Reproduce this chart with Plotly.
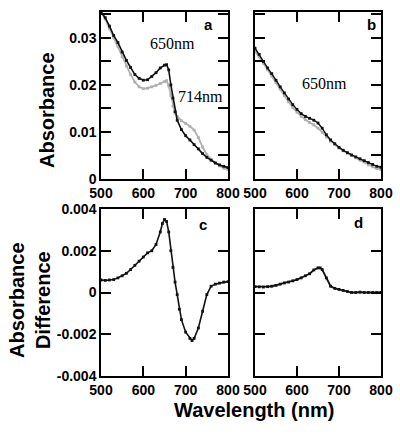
import plotly.graph_objects as go

# ---------------- data ----------------
wl_a = [500,510,520,530,540,550,560,570,580,590,600,610,620,630,640,650,655,660,665,670,675,680,690,700,710,720,730,740,750,760,770,780,790,800]
a_black = [0.0355,0.0343,0.0325,0.0305,0.0290,0.0270,0.0252,0.0237,0.0222,0.0214,0.0210,0.0211,0.0218,0.0226,0.0236,0.0242,0.0243,0.0232,0.0200,0.0172,0.0143,0.0125,0.0105,0.0092,0.0083,0.0073,0.0064,0.0054,0.0046,0.0040,0.0034,0.0030,0.0027,0.0024]
a_gray = [0.0355,0.0340,0.0320,0.0300,0.0282,0.0260,0.0240,0.0222,0.0206,0.0196,0.0192,0.0193,0.0196,0.0199,0.0203,0.0207,0.0209,0.0198,0.0178,0.0155,0.0140,0.0133,0.0124,0.0118,0.0112,0.0104,0.0088,0.0068,0.0052,0.0042,0.0034,0.0028,0.0023,0.0020]

wl_b = [500,510,520,530,540,550,560,570,580,590,600,610,620,630,640,650,660,670,680,690,700,710,720,730,740,750,760,770,780,790,800]
b_black = [0.0278,0.0265,0.0250,0.0236,0.0224,0.0210,0.0196,0.0183,0.0170,0.0158,0.0148,0.0139,0.0133,0.0129,0.0125,0.0119,0.0108,0.0094,0.0083,0.0075,0.0067,0.0061,0.0056,0.0051,0.0047,0.0043,0.0039,0.0035,0.0031,0.0027,0.0025]
b_gray = [0.0272,0.0260,0.0246,0.0232,0.0219,0.0205,0.0191,0.0177,0.0164,0.0152,0.0142,0.0133,0.0126,0.0120,0.0115,0.0108,0.0099,0.0089,0.0080,0.0073,0.0066,0.0060,0.0055,0.0050,0.0045,0.0040,0.0036,0.0030,0.0026,0.0022,0.0020]

wl_c = [500,510,520,530,540,550,560,570,580,590,600,610,620,630,640,645,650,655,660,665,670,675,680,685,690,700,710,715,720,730,740,750,760,770,780,790,800]
c_diff = [0.0006,0.00058,0.0006,0.00062,0.0007,0.0008,0.00092,0.0011,0.0013,0.0015,0.0017,0.0019,0.0020,0.0023,0.0029,0.0033,0.0035,0.0034,0.0029,0.0020,0.0012,0.0005,-0.0001,-0.0008,-0.0013,-0.0019,-0.0022,-0.0023,-0.0022,-0.0017,-0.0009,-0.0001,0.0003,0.0004,0.00045,0.0005,0.00052]

wl_d = [500,510,520,530,540,550,560,570,580,590,600,610,620,630,640,650,655,660,670,680,690,700,710,720,730,740,750,760,770,780,790,800]
d_diff = [0.00028,0.00027,0.00026,0.00028,0.0003,0.00034,0.0004,0.00046,0.0005,0.00056,0.00062,0.0007,0.0008,0.0009,0.00108,0.00118,0.00118,0.0011,0.0007,0.0003,0.0002,0.00015,0.0001,0.00005,0.0,0.0,0.00002,0.0,0.0,0.0,0.0,0.0]

x_ticks = [500, 600, 700, 800]
abs_ticks = [0, 0.005, 0.01, 0.015, 0.02, 0.025, 0.03, 0.035]
abs_labels = ["0", "", "0.01", "", "0.02", "", "0.03", ""]
diff_ticks = [-0.004, -0.002, 0, 0.002, 0.004]
diff_labels = ["-0.004", "-0.002", "0", "0.002", "0.004"]

# ---------------- figure ----------------
fig = go.Figure()
BLACK = "#111111"
GRAY = "#b0b0b0"

def add(x, y, color, xa, ya, width=1.3, msize=2.8):
    fig.add_trace(go.Scatter(x=x, y=y, mode="lines+markers", xaxis=xa, yaxis=ya,
                             line=dict(color=color, width=width),
                             marker=dict(color=color, size=msize, symbol="square"),
                             showlegend=False, hoverinfo="skip"))

add(wl_a, a_gray, GRAY, "x", "y", width=1.8)
add(wl_a, a_black, BLACK, "x", "y", width=1.6)
add(wl_b, b_gray, GRAY, "x2", "y2", width=1.8)
add(wl_b, b_black, BLACK, "x2", "y2", width=1.4)
add(wl_c, c_diff, BLACK, "x3", "y3", width=1.6)
add(wl_d, d_diff, BLACK, "x4", "y4", width=1.8)

def b(labels):
    return ["<b>%s</b>" % t if t else "" for t in labels]

tickfont = dict(family="Liberation Sans, Arial, sans-serif", size=14, color="black")
common = dict(showline=True, linecolor="black", linewidth=1.5, mirror="ticks",
              ticks="inside", ticklen=10, tickwidth=1.5, tickcolor="black",
              showgrid=False, zeroline=False, tickfont=tickfont, automargin=False)

dom_left = [101/400, 228/400]
dom_right = [255/400, 381/400]
dom_top = [1 - 179/435, 1 - 12/435]
dom_bot = [1 - 376/435, 1 - 209/435]

xa = dict(range=[500, 800], tickvals=x_ticks, ticktext=b([str(v) for v in x_ticks]), **common)

fig.update_layout(
    width=400, height=435,
    margin=dict(l=0, r=0, t=0, b=0),
    paper_bgcolor="white", plot_bgcolor="white",
    xaxis=dict(domain=dom_left, anchor="y", **xa),
    yaxis=dict(domain=dom_top, anchor="x", range=[0, 0.0355], tickvals=abs_ticks, ticktext=b(abs_labels), **common),
    xaxis2=dict(domain=dom_right, anchor="y2", **xa),
    yaxis2=dict(domain=dom_top, anchor="x2", range=[0, 0.0355], tickvals=abs_ticks, ticktext=[""] * len(abs_ticks), **common),
    xaxis3=dict(domain=dom_left, anchor="y3", **xa),
    yaxis3=dict(domain=dom_bot, anchor="x3", range=[-0.004, 0.004], tickvals=diff_ticks, ticktext=b(diff_labels), **common),
    xaxis4=dict(domain=dom_right, anchor="y4", **xa),
    yaxis4=dict(domain=dom_bot, anchor="x4", range=[-0.004, 0.004], tickvals=diff_ticks, ticktext=[""] * len(diff_ticks), **common),
)

def px(x, y):
    return dict(x=x / 400, y=1 - y / 435, xref="paper", yref="paper")

bold = dict(family="Liberation Sans, Arial, sans-serif", color="black", weight="bold")
serif = dict(family="Liberation Serif, Times New Roman, serif", size=16, color="black")

annots = [
    dict(text="<b>Absorbance</b>", textangle=-90, font=dict(size=20, **bold), **px(47, 110)),
    dict(text="<b>Absorbance<br>Difference</b>", textangle=-90, font=dict(size=20, **bold), **px(30, 300)),
    dict(text="<b>Wavelength (nm)</b>", font=dict(size=20, **bold), **px(254, 410)),
    dict(text="<b>a</b>", font=dict(size=15, **bold), **px(208, 24)),
    dict(text="<b>b</b>", font=dict(size=15, **bold), **px(371, 24)),
    dict(text="<b>c</b>", font=dict(size=15, **bold), **px(203, 224)),
    dict(text="<b>d</b>", font=dict(size=15, **bold), **px(358, 222)),
    dict(text="650nm", font=serif, **px(172, 43)),
    dict(text="714nm", font=serif, **px(201, 96)),
    dict(text="650nm", font=serif, **px(324, 84)),
]
for a in annots:
    a.update(showarrow=False, xanchor="center", yanchor="middle")
    fig.add_annotation(**a)

fig.write_html("out.html", config={"displayModeBar": False},
               post_script="document.body.style.margin='0';document.body.style.overflow='hidden';")
